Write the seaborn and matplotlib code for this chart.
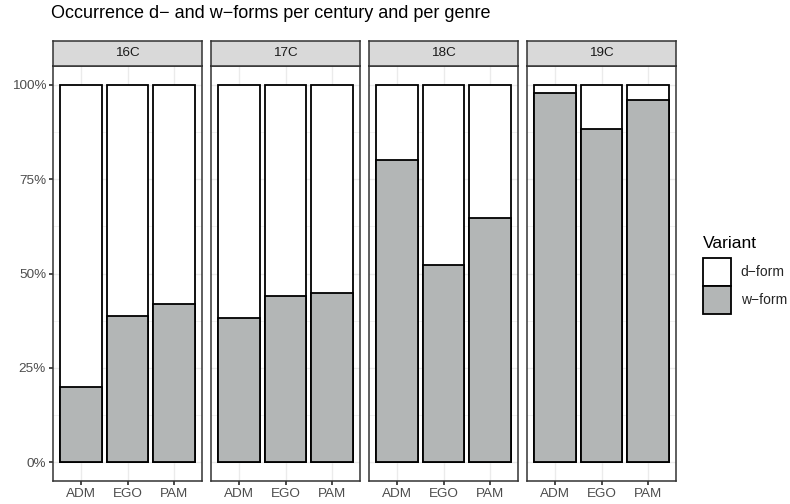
import matplotlib
matplotlib.use('Agg')

import pandas as pd
import matplotlib.pyplot as plt
import matplotlib.patches as mpatches
import seaborn as sns

sns.set_theme(style="white")
plt.rcParams['font.family'] = ['Liberation Sans', 'DejaVu Sans']

# Daten: Anteil w-form pro Jahrhundert und Genre
centuries = ['16C', '17C', '18C', '19C']
genres = ['ADM', 'EGO', 'PAM']
w_16 = [0.200, 0.388, 0.418]
w_17 = [0.383, 0.440, 0.447]
w_18 = [0.802, 0.523, 0.648]
w_19 = [0.979, 0.884, 0.960]
w_share = [w_16, w_17, w_18, w_19]

df = pd.DataFrame({
    'century': [c for c in centuries for _ in genres],
    'genre': genres * len(centuries),
    'w': [v for row in w_share for v in row],
})
df['total'] = 1.0

W, H = 790, 504
fig = plt.figure(figsize=(W / 100, H / 100), dpi=100)

grey_fill = '#B3B6B6'
x0s = [53, 211, 369, 527]
pw = 149
ptop, pbot = 66, 481
strip_top = 41
fs = 9.7

for i, cen in enumerate(centuries):
    sub = df[df['century'] == cen]
    ax = fig.add_axes([x0s[i] / W, 1 - pbot / H, pw / W, (pbot - ptop) / H])
    sns.barplot(x='genre', y='total', data=sub, order=genres, color='white',
                edgecolor='black', linewidth=1.3, width=0.9, ax=ax, zorder=2)
    sns.barplot(x='genre', y='w', data=sub, order=genres, color=grey_fill,
                edgecolor='black', linewidth=1.3, width=0.9, ax=ax, zorder=3,
                saturation=1)
    ax.set_xlim(-0.6, 2.6)
    ax.set_ylim(-0.05, 1.05)
    ax.set_xlabel('')
    ax.set_ylabel('')
    ax.set_yticks([0, 0.25, 0.5, 0.75, 1.0])
    ax.set_yticks([0.125, 0.375, 0.625, 0.875], minor=True)
    ax.grid(True, which='major', color='#EBEBEB', linewidth=1.0, zorder=0)
    ax.grid(True, which='minor', axis='y', color='#EBEBEB', linewidth=0.5, zorder=0)
    ax.set_axisbelow(True)
    for s in ax.spines.values():
        s.set_color('#333333')
        s.set_linewidth(1.1)
    ax.tick_params(axis='x', length=3, color='#333333', labelsize=fs,
                   labelcolor='#4D4D4D', pad=2, bottom=True)
    if i == 0:
        ax.set_yticklabels(['0%', '25%', '50%', '75%', '100%'])
        ax.tick_params(axis='y', length=3, color='#333333', labelsize=fs,
                       labelcolor='#4D4D4D', pad=2, left=True, which='major')
        ax.tick_params(axis='y', which='minor', length=0)
    else:
        ax.tick_params(axis='y', which='both', left=False, labelleft=False)

    # Facetten-Streifen
    sax = fig.add_axes([x0s[i] / W, 1 - ptop / H, pw / W, (ptop - strip_top) / H])
    sax.set_facecolor('#D9D9D9')
    sax.set_xticks([])
    sax.set_yticks([])
    for s in sax.spines.values():
        s.set_color('#333333')
        s.set_linewidth(1.1)
    sax.text(0.5, 0.5, cen, ha='center', va='center', fontsize=fs,
             color='#1A1A1A', transform=sax.transAxes)

fig.text(51 / W, 1 - 13 / H, 'Occurrence d\u2212 and w\u2212forms per century and per genre',
         ha='left', va='center', fontsize=13, color='black')

# Legende: Titel separat, Keys direkt darunter
fig.text(703 / W, 1 - 248 / H, 'Variant', ha='left', va='baseline',
         fontsize=12.5, color='black')
handles = [
    mpatches.Patch(facecolor='white', edgecolor='black', linewidth=1.3, label='d\u2212form'),
    mpatches.Patch(facecolor=grey_fill, edgecolor='black', linewidth=1.3, label='w\u2212form'),
]
fig.legend(handles=handles, loc='upper left',
           bbox_to_anchor=(703 / W, 1 - 258 / H), frameon=False,
           fontsize=10, handlelength=2.0, handleheight=2.7,
           handletextpad=0.72, labelspacing=0.0, borderpad=0,
           borderaxespad=0)

fig.savefig('out.png', dpi=100)
